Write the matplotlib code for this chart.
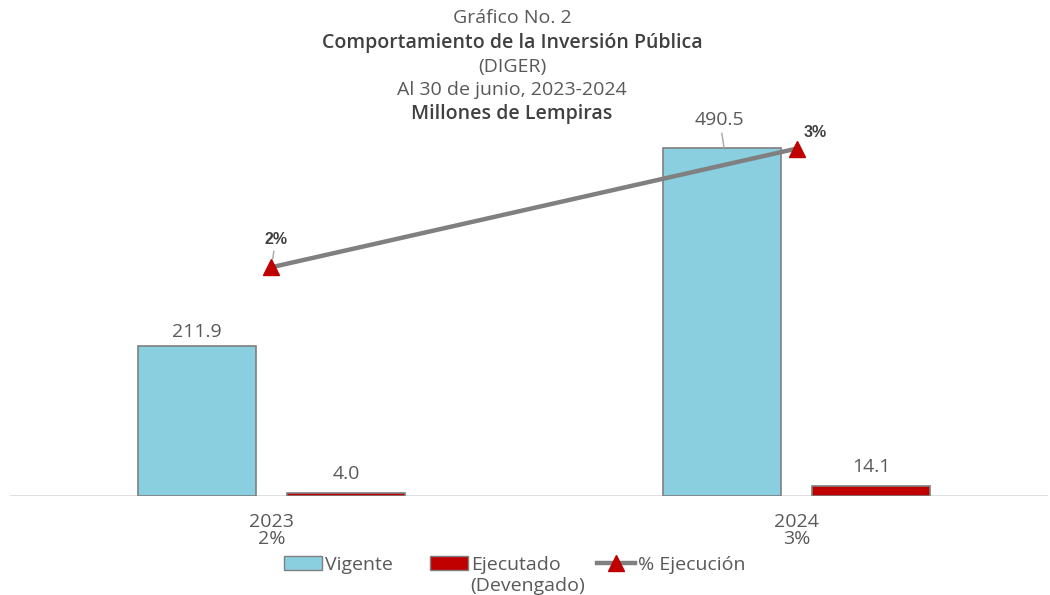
import matplotlib.pyplot as plt
from matplotlib.patches import Patch
from matplotlib.lines import Line2D
import numpy as np

plt.rcParams['font.family'] = ['Open Sans', 'DejaVu Sans']

# data
years = ['2023', '2024']
pct_labels = ['2%', '3%']
vigente = [211.9, 490.5]
ejecutado = [4.0, 14.1]
pct_ejec = [1.89, 2.87]

txt = '#595959'
c_vig = '#89cfdf'
c_eje = '#c00000'
c_line = '#808080'

fig = plt.figure(figsize=(10.5, 5.95), dpi=100)
W, H = 1050, 595
# axes placed so that the baseline sits at y=496 px
ax = fig.add_axes([10 / W, (H - 496) / H, 1038 / W, 425.7 / H])
ax.set_xlim(-0.498, 1.479)
ax.set_ylim(0, 600)

x = np.arange(len(years))
bw = 0.225
off = 0.142
ax.bar(x - off, vigente, bw, color=c_vig, edgecolor='#7f7f7f', linewidth=1.2, zorder=2)
ax.bar(x + off, ejecutado, bw, color=c_eje, edgecolor='#7f7f7f', linewidth=1.2, zorder=2)
ax.axhline(0, color='#d9d9d9', linewidth=1.2, zorder=1)

for i in range(len(years)):
    if i == 1:
        ax.annotate(f'{vigente[i]:.1f}', xy=(x[i] - off + 0.004, vigente[i]),
                    xytext=(x[i] - 0.146, 530),
                    ha='center', va='center', fontsize=14, color=txt,
                    arrowprops=dict(arrowstyle='-', color='#a6a6a6', lw=1, shrinkA=1, shrinkB=0))
    else:
        ax.text(x[i] - off, vigente[i] + 19, f'{vigente[i]:.1f}', ha='center', va='center',
                fontsize=14, color=txt)
    ax.text(x[i] + off, ejecutado[i] + 27, f'{ejecutado[i]:.1f}', ha='center', va='center',
            fontsize=14, color=txt)

for sp in ax.spines.values():
    sp.set_visible(False)
ax.set_yticks([])
ax.set_xticks(x)
ax.set_xticklabels([f'{y}\n{p}' for y, p in zip(years, pct_labels)], fontsize=14, color=txt,
                   linespacing=0.93)
ax.tick_params(axis='x', length=0, pad=12)

# secondary axis for % execution
ax2 = ax.twinx()
ax2.set_ylim(0, 600 / 170.6)
ax2.plot(x, pct_ejec, color=c_line, linewidth=3.2, marker='^', markersize=11,
         markerfacecolor=c_eje, markeredgecolor=c_eje, zorder=3)
ax2.annotate(pct_labels[0], xy=(x[0], pct_ejec[0]), xytext=(x[0] + 0.008, pct_ejec[0] + 0.23),
             ha='center', va='center', fontsize=11.5, fontweight='bold', color='#404040',
             family='Liberation Sans',
             arrowprops=dict(arrowstyle='-', color='#a6a6a6', lw=1, shrinkA=1, shrinkB=6))
ax2.text(x[1] + 0.036, pct_ejec[1] + 0.13, pct_labels[1], ha='center', va='center',
         fontsize=11.5, fontweight='bold', color='#404040', family='Liberation Sans')
ax2.set_yticks([])
for sp in ax2.spines.values():
    sp.set_visible(False)

# title block
titles = [('Gráfico No. 2', 'normal', 18),
          ('Comportamiento de la Inversión Pública', 'semibold', 43),
          ('(DIGER)', 'normal', 67),
          ('Al 30 de junio, 2023-2024', 'normal', 90),
          ('Millones de Lempiras', 'semibold', 114)]
for t, w, ypx in titles:
    fig.text(512 / W, 1 - ypx / H, t, ha='center', va='center', fontsize=14, fontweight=w,
             color=txt if w == 'normal' else '#404040')

handles = [Patch(facecolor=c_vig, edgecolor='#7f7f7f'),
           Patch(facecolor=c_eje, edgecolor='#7f7f7f'),
           Line2D([], [], color=c_line, linewidth=3.2, marker='^', markersize=11,
                  markerfacecolor=c_eje, markeredgecolor=c_eje)]
labels = ['Vigente', 'Ejecutado', '% Ejecución']
leg = fig.legend(handles, labels, loc='center', bbox_to_anchor=(515 / W, 1 - 565 / H),
                 ncol=3, frameon=False, fontsize=14, handlelength=1.95, handletextpad=0.15,
                 columnspacing=1.9, labelcolor=txt, borderpad=0)

# second line of the "Ejecutado" label, placed under it
fig.canvas.draw()
bb = leg.get_texts()[1].get_window_extent()
fig.text(bb.x0 / W, (bb.y0 - 12) / H, '(Devengado)', ha='left', va='center', fontsize=14,
         color=txt)

fig.savefig('out.png', dpi=100)
